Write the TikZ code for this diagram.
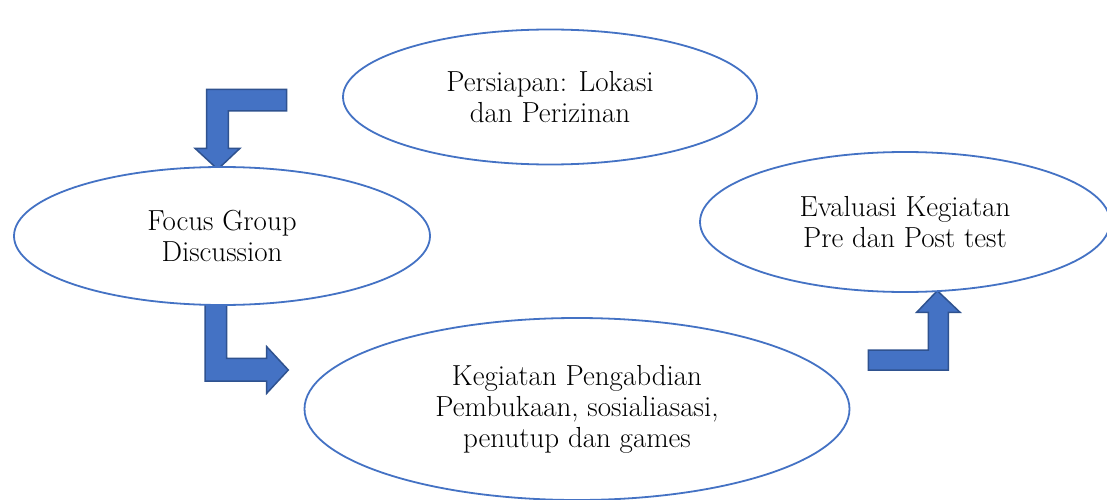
\documentclass[tikz,border=0pt]{standalone}
\usetikzlibrary{shapes.geometric}
\definecolor{ellblue}{HTML}{4472C4}
\definecolor{arrfill}{HTML}{4472C4}
\definecolor{arrdraw}{HTML}{2F528F}
\tikzset{
  oval/.style={ellipse, draw=ellblue, line width=1.8pt, fill=white, inner sep=0pt, align=center,
    font=\fontsize{29}{31}\selectfont},
  blockarrow/.style={fill=arrfill, draw=arrdraw, line width=1.5pt, line join=miter}
}
\begin{document}
\begin{tikzpicture}[x=1pt,y=-1pt]
\useasboundingbox (0,0) rectangle (1107,500);
\fill[white] (0,0) rectangle (1107,500);
% block arrows
\draw[blockarrow] (286.7,89.3) -- (206.7,89.3) -- (206.7,148.3) -- (195,148.3) -- (217.7,169.3) -- (240,148.3) -- (228.3,148.3) -- (228.3,111) -- (286.7,111) -- cycle;
\draw[blockarrow] (205,300) -- (226.7,300) -- (226.7,358.3) -- (266.7,358.3) -- (266.7,346.7) -- (288.3,370) -- (266.7,393.3) -- (266.7,381) -- (205,381) -- cycle;
\draw[blockarrow] (868.3,350) -- (928.3,350) -- (928.3,312.3) -- (916.7,312.3) -- (937.3,290.7) -- (960,312.3) -- (948.3,312.3) -- (948.3,370) -- (868.3,370) -- cycle;
% ellipses
\node[oval, minimum width=414pt, minimum height=135pt] (prep) at (550,97) {Persiapan: Lokasi\\dan Perizinan};
\node[oval, minimum width=416pt, minimum height=138pt] (fgd) at (222,236) {Focus Group\\Discussion};
\node[oval, minimum width=410pt, minimum height=140pt] (eval) at (905,222) {Evaluasi Kegiatan\\Pre dan Post test};
\node[oval, minimum width=545pt, minimum height=182pt] (keg) at (577,409) {Kegiatan Pengabdian\\Pembukaan, sosialiasasi,\\penutup dan games};
\end{tikzpicture}
\end{document}
